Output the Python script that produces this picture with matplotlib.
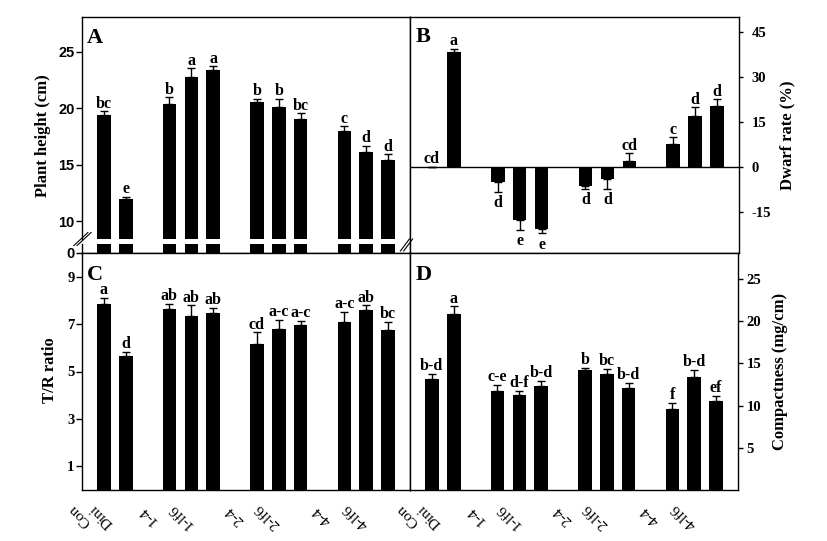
import matplotlib
matplotlib.use("Agg")
import matplotlib.pyplot as plt
import matplotlib.transforms as mtransforms
from matplotlib.lines import Line2D

plt.rcParams.update({
    'font.family': 'Liberation Serif',
    'font.weight': 'bold',
    'axes.unicode_minus': False,
    'axes.linewidth': 1.0,
})

# bar positions (gaps between treatment groups)
pos = [1, 2, 4, 5, 6, 8, 9, 10, 12, 13, 14]
xlabels = ["Con", "Dini", "1-4", "1-lf6", "2-4", "2-lf6", "4-4", "4-lf6"]
xlabel_pos = [-0.1, 0.9, 3, 4.5, 7, 8.5, 11, 12.5]

height = [19.41, 11.97, 20.38, 22.77, 23.39, 20.56, 20.12, 19.05, 17.99, 16.13, 15.42]
height_err = [0.32, 0.2, 0.6, 0.77, 0.33, 0.26, 0.7, 0.5, 0.41, 0.53, 0.5]
height_sig = ["bc", "e", "b", "a", "a", "b", "b", "bc", "c", "d", "d"]

dwarf = [0, 38.2, -4.9, -17.7, -20.6, -6.2, -3.9, 1.9, 7.7, 17.0, 20.3]
dwarf_err = [0, 1.2, 3.3, 3.3, 1.5, 1.2, 3.5, 2.7, 2.2, 2.9, 2.3]
dwarf_sig = ["cd", "a", "d", "e", "e", "d", "d", "cd", "c", "d", "d"]

tr = [7.86, 5.66, 7.65, 7.35, 7.48, 6.17, 6.8, 6.97, 7.1, 7.6, 6.76]
tr_err = [0.24, 0.16, 0.2, 0.44, 0.2, 0.49, 0.37, 0.16, 0.41, 0.2, 0.34]
tr_sig = ["a", "d", "ab", "ab", "ab", "cd", "a-c", "a-c", "a-c", "ab", "bc"]

comp = [13.2, 20.87, 11.79, 11.32, 12.3, 14.27, 13.8, 12.15, 9.55, 13.36, 10.61]
comp_err = [0.6, 0.9, 0.7, 0.43, 0.67, 0.23, 0.59, 0.55, 0.78, 0.86, 0.55]
comp_sig = ["b-d", "a", "c-e", "d-f", "b-d", "b", "bc", "b-d", "f", "b-d", "ef"]

W, H = 827, 541
fig = plt.figure(figsize=(W / 100, H / 100), dpi=100)


def rect(x0, y0, x1, y1):
    # pixel box -> figure fraction
    return [x0 / W, 1 - y1 / H, (x1 - x0) / W, (y1 - y0) / H]


def bars(ax, vals, errs, sigs=None):
    ax.bar(pos, vals, width=0.62, color='black')
    if sigs is None:
        return
    lo = [e if v < 0 else 0 for v, e in zip(vals, errs)]
    hi = [0 if v < 0 else e for v, e in zip(vals, errs)]
    ax.errorbar(pos, vals, yerr=[lo, hi], fmt='none', ecolor='black',
                elinewidth=1, capsize=2.6, capthick=1)
    for x, v, e, s in zip(pos, vals, errs, sigs):
        if v < 0:
            ax.annotate(s, (x, v - e), xytext=(0, -2.4), textcoords='offset points',
                        ha='center', va='top', fontsize=11.5)
        else:
            ax.annotate(s, (x, v + e), xytext=(0, 2.6), textcoords='offset points',
                        ha='center', va='baseline', fontsize=11.5)


axA = fig.add_axes(rect(82, 17, 410, 239))
axA0 = fig.add_axes(rect(82, 244, 410, 253))
axB = fig.add_axes(rect(410, 17, 739, 253))
axC = fig.add_axes(rect(82, 253, 410, 490))
axD = fig.add_axes(rect(410, 253, 738, 490))

for ax in (axA, axA0, axB, axC, axD):
    ax.set_xlim(0, 15)
    ax.set_xticks([])

# A: plant height, broken axis
bars(axA, height, height_err, height_sig)
axA.set_ylim(8.43, 28.07)
axA.spines['bottom'].set_visible(False)
axA.set_yticks([10, 15, 20, 25], labels=['10', '15', '20', '25'],
               fontfamily='Liberation Sans', fontweight='bold', fontsize=10.5)
bars(axA0, height, height_err)
axA0.set_ylim(0, 1)
axA0.spines['top'].set_visible(False)
axA0.set_yticks([0], labels=['0'], fontfamily='Liberation Sans',
                fontweight='bold', fontsize=10.5)
for ax in (axA, axA0):
    ax.tick_params(axis='y', direction='out', length=4.3, width=1, pad=1)

# B: dwarf rate
axB.axhline(0, color='black', lw=1)
bars(axB, dwarf, dwarf_err, dwarf_sig)
axB.set_ylim(-28.7, 50)
axB.yaxis.tick_right()
axB.set_yticks([-15, 0, 15, 30, 45])
axB.tick_params(axis='y', direction='out', length=3, width=1, pad=6,
                labelsize=10.5)
for lab in axB.get_yticklabels():
    lab.set_horizontalalignment('left')

# C: T/R ratio
bars(axC, tr, tr_err, tr_sig)
axC.set_ylim(0, 10)
axC.set_yticks([1, 3, 5, 7, 9])
axC.tick_params(axis='y', direction='out', length=4.3, width=1, pad=1,
                labelsize=10.5)

# D: compactness
bars(axD, comp, comp_err, comp_sig)
axD.set_ylim(0, 28.1)
axD.yaxis.tick_right()
axD.set_yticks([5, 10, 15, 20, 25])
axD.tick_params(axis='y', direction='out', length=3.5, width=1, pad=2.7,
                labelsize=10.5)

for ax in (axC, axD):
    tr_xy = mtransforms.blended_transform_factory(ax.transData, ax.transAxes)
    for xp, lab in zip(xlabel_pos, xlabels):
        ax.text(xp, -0.108, lab, transform=tr_xy, rotation=135, ha='center',
                va='center', fontsize=11, fontweight='normal', clip_on=False)

# panel letters
for ax, letter, y in ((axA, 'A', 0.95), (axB, 'B', 0.958),
                      (axC, 'C', 0.95), (axD, 'D', 0.95)):
    ax.text(0.016, y, letter, transform=ax.transAxes, ha='left', va='top',
            fontsize=16)

# axis titles
fig.text(43 / W, 1 - 136 / H, 'Plant height (cm)', rotation=90,
         ha='center', va='center', fontsize=12)
fig.text(50 / W, 1 - 370 / H, 'T/R ratio', rotation=90,
         ha='center', va='center', fontsize=12)
fig.text(787 / W, 1 - 135 / H, 'Dwarf rate (%)', rotation=90,
         ha='center', va='center', fontsize=12)
fig.text(780 / W, 1 - 371 / H, 'Compactness (mg/cm)', rotation=90,
         ha='center', va='center', fontsize=12)

# axis break marks
for cx, cy, dx, dy in ((82.5, 239, 7, 6.5), (406.5, 245, 4.5, 6)):
    for off in (-1.6, 1.6):
        fig.add_artist(Line2D([(cx - dx + off) / W, (cx + dx + off) / W],
                              [1 - (cy + dy) / H, 1 - (cy - dy) / H],
                              transform=fig.transFigure, color='black', lw=0.8))

fig.savefig('out.png', dpi=100)
